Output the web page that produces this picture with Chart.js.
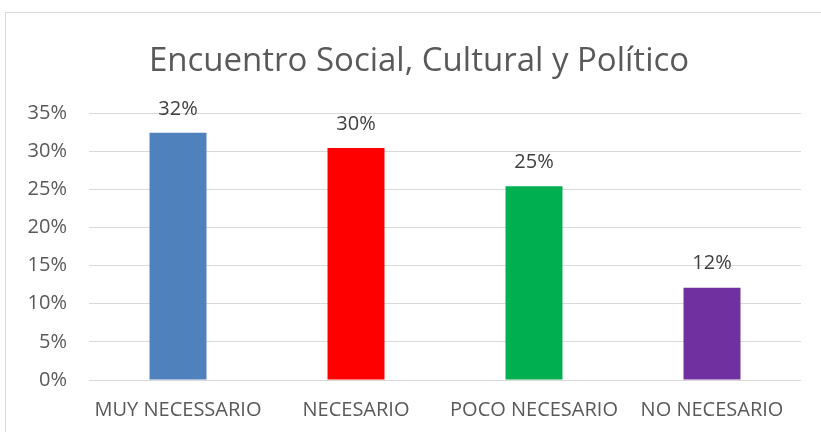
<!DOCTYPE html>
<html>
<head>
<meta charset="utf-8">
<script src="https://cdn.jsdelivr.net/npm/chart.js@4"></script>
<style>
  html, body { margin: 0; padding: 0; background: #ffffff; }
  #chart-container {
    position: absolute;
    left: 5px;
    top: 12px;
    width: 816px;
    height: 420px;
    border-left: 1px solid #d9d9d9;
    border-top: 1px solid #d9d9d9;
  }
</style>
</head>
<body>
<div id="chart-container"><canvas id="chart"></canvas></div>
<script>
// Chart data
const categories = ['MUY NECESSARIO', 'NECESARIO', 'POCO NECESARIO', 'NO NECESARIO'];
const values = [0.324, 0.304, 0.254, 0.121];
const barColors = ['#4f81bd', '#ff0000', '#00b050', '#7030a0'];
const yTicks = [0, 0.05, 0.10, 0.15, 0.20, 0.25, 0.30, 0.35];
const titleText = 'Encuentro Social, Cultural y Político';

const FONT = '"Open Sans", sans-serif';

// Title drawn by hand so it can sit a little right of the canvas centre, like the original
const chartTitle = {
    id: 'chartTitle',
    afterDraw(chart) {
        const ctx = chart.ctx;
        ctx.save();
        ctx.fillStyle = '#595959';
        ctx.font = '33px ' + FONT;
        ctx.textAlign = 'center';
        ctx.textBaseline = 'middle';
        ctx.fillText(titleText, chart.width / 2 + 5, 49);
        ctx.restore();
    }
};

// Draws the percentage label above each bar
const valueLabels = {
    id: 'valueLabels',
    afterDatasetsDraw(chart) {
        const ctx = chart.ctx;
        const meta = chart.getDatasetMeta(0);
        ctx.save();
        ctx.fillStyle = '#404040';
        ctx.font = '20px ' + FONT;
        ctx.textAlign = 'center';
        ctx.textBaseline = 'middle';
        meta.data.forEach((bar, i) => {
            const text = Math.round(values[i] * 100) + '%';
            ctx.fillText(text, bar.x, bar.y - 24);
        });
        ctx.restore();
    }
};

new Chart(document.getElementById('chart').getContext('2d'), {
    type: 'bar',
    data: {
        labels: categories,
        datasets: [{
            data: values,
            backgroundColor: barColors,
            borderWidth: 0,
            barPercentage: 0.32,
            categoryPercentage: 1.0
        }]
    },
    options: {
        responsive: true,
        maintainAspectRatio: false,
        animation: false,
        layout: {
            padding: { left: 17, right: 21, top: 100, bottom: 0 }
        },
        plugins: {
            legend: { display: false },
            tooltip: { enabled: false },
            title: { display: false }
        },
        scales: {
            x: {
                grid: { display: false, drawTicks: false },
                border: { display: false },
                afterFit(scale) { scale.height = 53; },
                ticks: {
                    color: '#595959',
                    font: { family: FONT, size: 20 },
                    padding: 18,
                    maxRotation: 0,
                    autoSkip: false
                }
            },
            y: {
                min: 0,
                max: 0.35,
                afterBuildTicks(axis) {
                    axis.ticks = yTicks.map(v => ({ value: v }));
                },
                afterFit(scale) { scale.width = 66; },
                grid: { color: '#d9d9d9', lineWidth: 1, drawTicks: false },
                border: { display: false },
                ticks: {
                    color: '#595959',
                    font: { family: FONT, size: 20 },
                    padding: 22,
                    callback: v => Math.round(v * 100) + '%'
                }
            }
        }
    },
    plugins: [valueLabels, chartTitle]
});
</script>
</body>
</html>
